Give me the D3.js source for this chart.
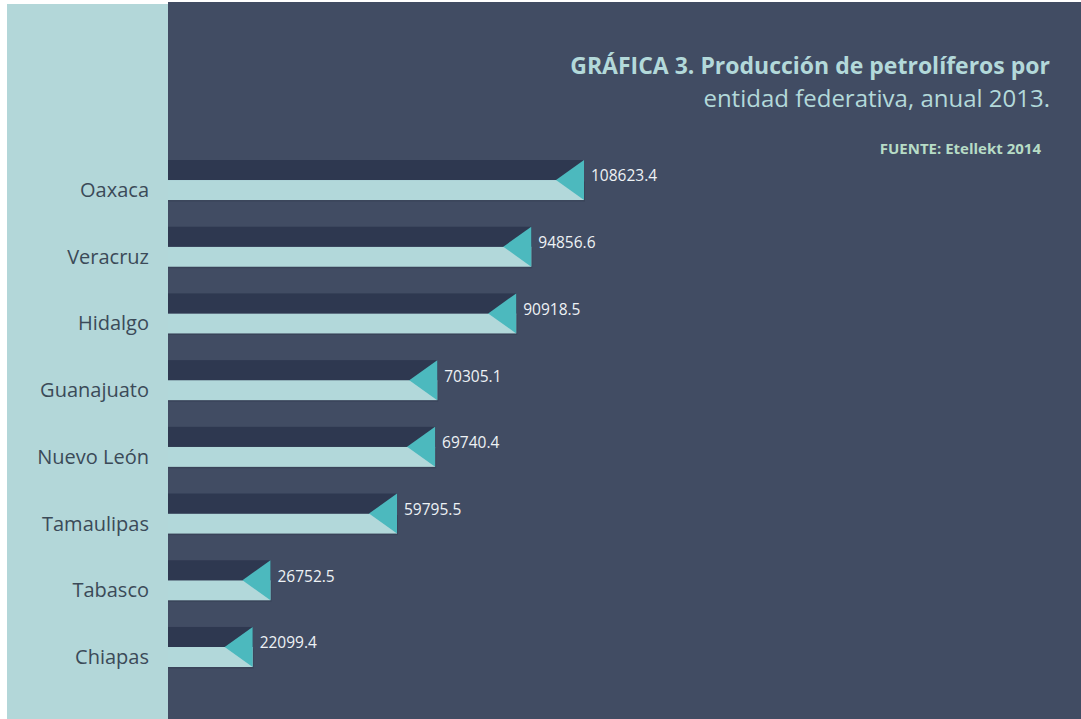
<!DOCTYPE html>
<html>
<head>
<meta charset="utf-8">
<title>Producción de petrolíferos</title>
<script src="https://d3js.org/d3.v7.min.js"></script>
<style>
  body { margin: 0; background: #fff; }
  svg { display: block; }
</style>
</head>
<body>
<svg width="1081" height="719"></svg>
<script>
// data
var estados = ["Oaxaca", "Veracruz", "Hidalgo", "Guanajuato", "Nuevo León", "Tamaulipas", "Tabasco", "Chiapas"];
var produccion = [108623.4, 94856.6, 90918.5, 70305.1, 69740.4, 59795.5, 26752.5, 22099.4];
var titulo = ["GRÁFICA 3. Producción de petrolíferos por", "entidad federativa, anual 2013."];
var fuente = "FUENTE: Etellekt 2014";

var svg = d3.select("svg");
var font = "'Open Sans', Lato, sans-serif";

// panels
svg.append("rect").attr("x", 7).attr("y", 4).attr("width", 161).attr("height", 715).attr("fill", "#b3d7d9");
svg.append("rect").attr("x", 168).attr("y", 2).attr("width", 913).attr("height", 717).attr("fill", "#414c63");

var x = d3.scaleLinear().domain([0, 108623.4]).range([168, 584]);
// step ~66.7, bar 40 high
var y = d3.scaleBand().domain(estados).range([160, 667]).paddingInner(0.4).paddingOuter(0);
var bh = y.bandwidth();

var rows = svg.append("g").selectAll("g").data(estados).enter().append("g")
    .attr("transform", function(d) { return "translate(0," + y(d) + ")"; });

// soft shadow under bar
rows.append("rect")
    .attr("x", x(0)).attr("y", bh / 2 + 1.5)
    .attr("width", function(d, i) { return x(produccion[i]) - x(0) + 1; })
    .attr("height", bh / 2).attr("fill", "#2b3347").attr("opacity", 0.35);
rows.append("rect")
    .attr("x", x(0)).attr("y", bh / 2)
    .attr("width", function(d, i) { return x(produccion[i]) - x(0); })
    .attr("height", bh / 2).attr("fill", "#b2d8da");
rows.append("rect")
    .attr("x", x(0)).attr("y", 0)
    .attr("width", function(d, i) { return x(produccion[i]) - x(0); })
    .attr("height", bh / 2).attr("fill", "#2e3850");
rows.append("path")
    .attr("d", function(d, i) {
      var t = x(produccion[i]);
      return "M" + t + ",0L" + t + "," + bh + "L" + (t - 28) + "," + (bh / 2) + "Z";
    })
    .attr("fill", "#4cb9be");

rows.append("text")
    .attr("x", function(d, i) { return x(produccion[i]) + 7; })
    .attr("y", 16)
    .attr("dy", "0.35em")
    .attr("fill", "#eef2f5")
    .attr("font-family", font)
    .attr("font-size", 15.5)
    .text(function(d, i) { return produccion[i]; });

rows.append("text")
    .attr("x", 149)
    .attr("y", 30)
    .attr("dy", "0.35em")
    .attr("text-anchor", "end")
    .attr("fill", "#3b4a58")
    .attr("font-family", font)
    .attr("font-size", 20)
    .text(function(d) { return d; });

// title
svg.append("text").attr("x", 1050).attr("y", 74).attr("text-anchor", "end")
    .attr("fill", "#b3d9da").attr("font-family", font).attr("font-weight", "bold").attr("font-size", 23)
    .text(titulo[0]);
svg.append("text").attr("x", 1050).attr("y", 107).attr("text-anchor", "end")
    .attr("fill", "#b3d9da").attr("font-family", font).attr("font-weight", 500).attr("font-size", 24)
    .text(titulo[1]);
svg.append("text").attr("x", 1041).attr("y", 154).attr("text-anchor", "end")
    .attr("fill", "#b7dcc6").attr("font-family", font).attr("font-weight", "bold").attr("font-size", 15)
    .text(fuente);
</script>
</body>
</html>
